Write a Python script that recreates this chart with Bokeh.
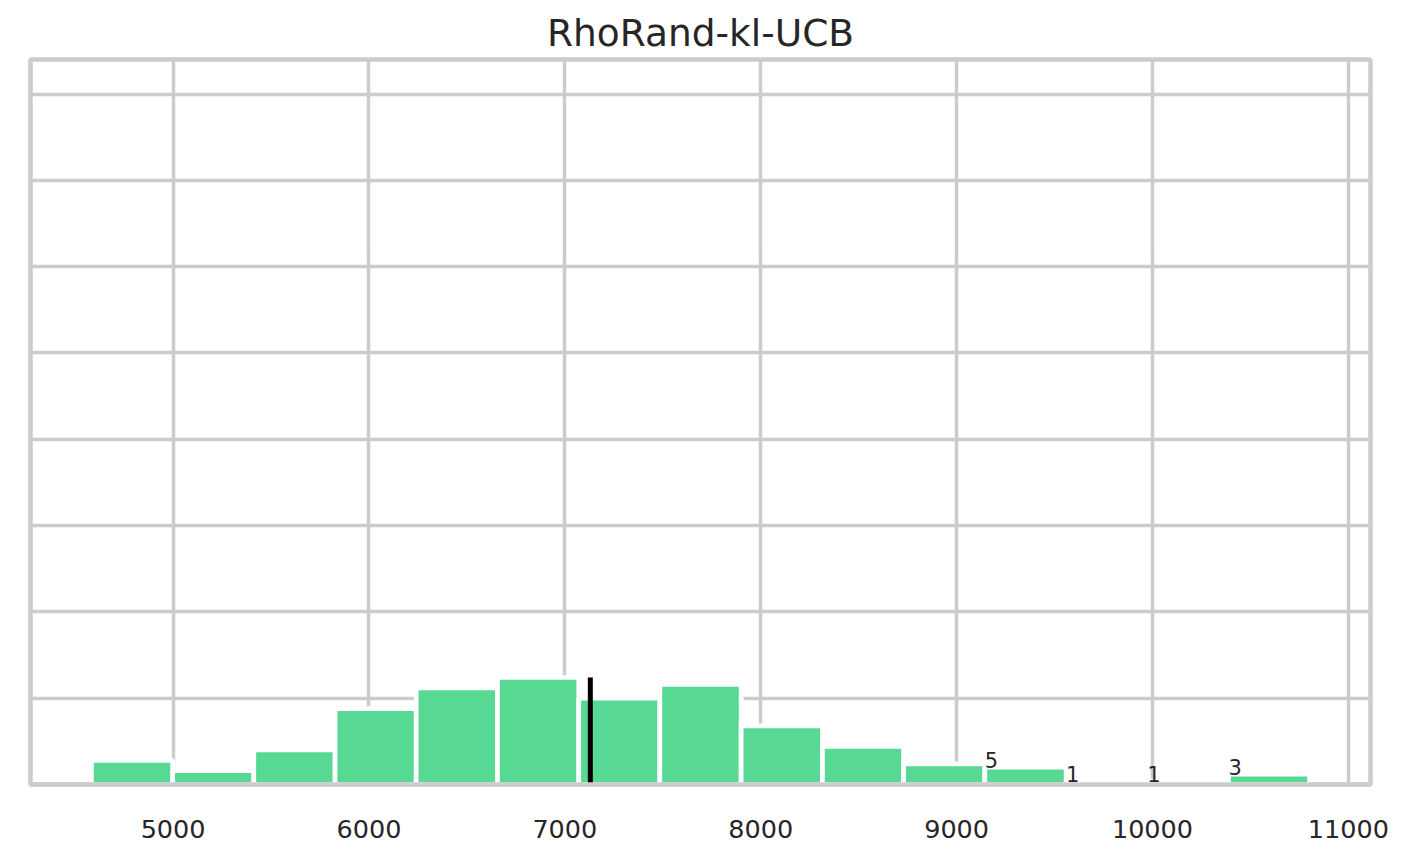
from bokeh.plotting import figure
from bokeh.models import Range1d, FixedTicker, ColumnDataSource
from bokeh.core.properties import value
from bokeh.embed import file_html
from bokeh.resources import INLINE

# ---- data ----
title = "RhoRand-kl-UCB"
bin_edges = [4583, 4998, 5412, 5827, 6241, 6656, 7071, 7485, 7900,
             8315, 8729, 9144, 9559, 9973, 10388, 10802]
counts = [7, 4, 10, 22, 28, 31, 25, 29, 17, 11, 6, 5, 1, 1, 3]
labelled_bins = [11, 12, 13, 14]
mean_value = 7130
x_ticks = [5000, 6000, 7000, 8000, 9000, 10000, 11000]
y_grid = [0, 25, 50, 75, 100, 125, 150, 175, 200]
y_max = 210

GRID = "#cccccc"
TEXT = "#262626"
BAR = "#57D994"
FONT = "DejaVu Sans"

lefts = bin_edges[:-1]
rights = bin_edges[1:]
centers = [(a + b) / 2 for a, b in zip(lefts, rights)]
widths = [b - a for a, b in zip(lefts, rights)]
span = bin_edges[-1] - bin_edges[0]

p = figure(
    frame_width=1340, frame_height=725,
    output_backend="svg", toolbar_location=None,
    x_range=Range1d(bin_edges[0] - 0.05 * span, bin_edges[-1] + 0.05 * span),
    y_range=Range1d(0, y_max),
    min_border_left=30, min_border_right=50, min_border_top=59, min_border_bottom=62,
    background_fill_color="white", border_fill_color="white",
)

p.title.text = title
p.title.align = "center"
p.title.text_font = FONT
p.title.text_font_size = "37.5px"
p.title.text_font_style = "normal"
p.title.text_color = TEXT
p.title.standoff = 9

p.outline_line_color = GRID
p.outline_line_width = 4.5

p.yaxis.visible = False
xa = p.xaxis[0]
xa.ticker = FixedTicker(ticks=x_ticks)
xa.major_tick_out = 0
xa.major_tick_in = 0
xa.minor_tick_out = 0
xa.minor_tick_in = 0
xa.axis_line_color = GRID
xa.axis_line_width = 4.5
xa.major_label_text_font = FONT
xa.major_label_text_font_size = "25.5px"
xa.major_label_text_color = TEXT
xa.major_label_standoff = 35

p.xgrid.ticker = FixedTicker(ticks=x_ticks)
p.ygrid.ticker = FixedTicker(ticks=y_grid)
for g in (p.xgrid, p.ygrid):
    g.grid_line_color = GRID
    g.grid_line_width = 3.5

src = ColumnDataSource(dict(x=centers, w=widths, top=counts))
p.vbar(x="x", width="w", top="top", bottom=0, source=src,
       fill_color=BAR, line_color="white", line_width=4.7)

p.segment(x0=[mean_value], y0=[0], x1=[mean_value], y1=[max(counts)],
          line_color="black", line_width=5)

lab = ColumnDataSource(dict(
    x=[lefts[i] for i in labelled_bins],
    y=[counts[i] for i in labelled_bins],
    t=[str(counts[i]) for i in labelled_bins],
))
p.text(x="x", y="y", text="t", source=lab, text_align="left",
       text_baseline="alphabetic", y_offset=-7, text_font=value(FONT),
       text_font_size="21px", text_color=TEXT)

open("out.html", "w").write(file_html(p, INLINE))
